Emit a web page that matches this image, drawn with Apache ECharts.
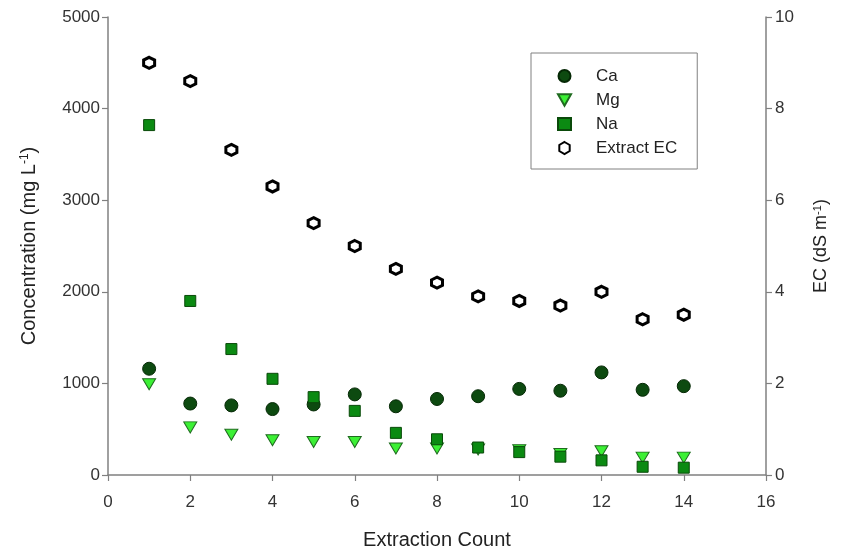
<!DOCTYPE html>
<html><head><meta charset="utf-8">
<script src="https://cdn.jsdelivr.net/npm/echarts@6/dist/echarts.min.js"></script>
<style>html,body{margin:0;padding:0;background:#fff}#c{width:844px;height:555px}</style>
</head><body><div id="c"></div>
<script>
const counts = [1,2,3,4,5,6,7,8,9,10,11,12,13,14];
const ca = [1160,780,760,720,770,880,750,830,860,940,920,1120,930,970];
const mg = [990,520,440,380,360,360,290,290,280,270,230,260,190,190];
const na = [3820,1900,1375,1050,850,700,460,390,300,250,200,160,90,80];
const ec = [9.0,8.6,7.1,6.3,5.5,5.0,4.5,4.2,3.9,3.8,3.7,4.0,3.4,3.5];
const pair = (arr) => counts.map((c,i)=>[c,arr[i]]);
const font = 'Liberation Sans, Arial, sans-serif';
const hex = 'path://M5,0 L9.33,2.5 L9.33,7.5 L5,10 L0.67,7.5 L0.67,2.5 Z';
const tri = 'path://M0,0 L10,0 L5,8.66 Z';
const chart = echarts.init(document.getElementById('c'));
const axisCommon = {
  axisLine:{show:true,lineStyle:{color:'#808080',width:1.5}},
  axisTick:{show:true,length:6,lineStyle:{color:'#808080',width:1.2}},
  splitLine:{show:false}
};
const lbl = (m) => ({color:'#333',fontSize:17,fontFamily:font,margin:m,formatter:(v)=>String(v)});
chart.setOption({
  animation:false,
  textStyle:{fontFamily:font},
  grid:{left:108,right:78,top:17,bottom:80},
  legend:{
    orient:'vertical', left:531, top:53,
    padding:[13,20,11,26], itemGap:4,
    borderColor:'#808080', borderWidth:1,
    itemWidth:13, itemHeight:12,
    textStyle:{fontSize:17,lineHeight:20,color:'#222',fontFamily:font,padding:[0,0,0,20]},
    data:['Ca','Mg','Na','Extract EC']
  },
  xAxis:Object.assign({type:'value',min:0,max:16,interval:2,
    axisLabel:lbl(19),
    name:'Extraction Count',nameLocation:'middle',nameGap:55,
    nameTextStyle:{fontSize:20,color:'#222',fontFamily:font}},axisCommon),
  yAxis:[
    Object.assign({type:'value',min:0,max:5000,interval:1000,position:'left',
      axisLabel:lbl(8),
      name:'{a|Concentration (mg L}{s|-1}{a|)}',nameLocation:'middle',nameGap:68,nameRotate:90,
      nameTextStyle:{rich:{a:{fontSize:20,color:'#222',fontFamily:font},s:{fontSize:12,color:'#222',fontFamily:font,verticalAlign:'top',padding:[0,0,9,0]}}}},axisCommon),
    Object.assign({type:'value',min:0,max:10,interval:2,position:'right',
      axisLabel:lbl(9),
      name:'{a|EC (dS m}{s|-1}{a|)}',nameLocation:'middle',nameGap:46,nameRotate:90,
      nameTextStyle:{rich:{a:{fontSize:18,color:'#222',fontFamily:font},s:{fontSize:11,color:'#222',fontFamily:font,verticalAlign:'top',padding:[0,0,8,0]}}}},axisCommon)
  ],
  series:[
    {name:'Ca',type:'scatter',data:pair(ca),symbol:'circle',symbolSize:13,
      itemStyle:{color:'#0d4a10',borderColor:'#052805',borderWidth:1,opacity:1}},
    {name:'Mg',type:'scatter',data:pair(mg),symbol:tri,symbolSize:[13,11],
      itemStyle:{color:'#3cf035',borderColor:'#1f6b1f',borderWidth:1,opacity:1}},
    {name:'Na',type:'scatter',data:pair(na),symbol:'rect',symbolSize:11,
      itemStyle:{color:'#0b8a12',borderColor:'#0a4a0a',borderWidth:1,opacity:1}},
    {name:'Extract EC',type:'scatter',yAxisIndex:1,data:pair(ec),symbol:hex,symbolSize:11,
      itemStyle:{color:'#fff',borderColor:'#000',borderWidth:3,opacity:1}}
  ]
});
</script></body></html>
